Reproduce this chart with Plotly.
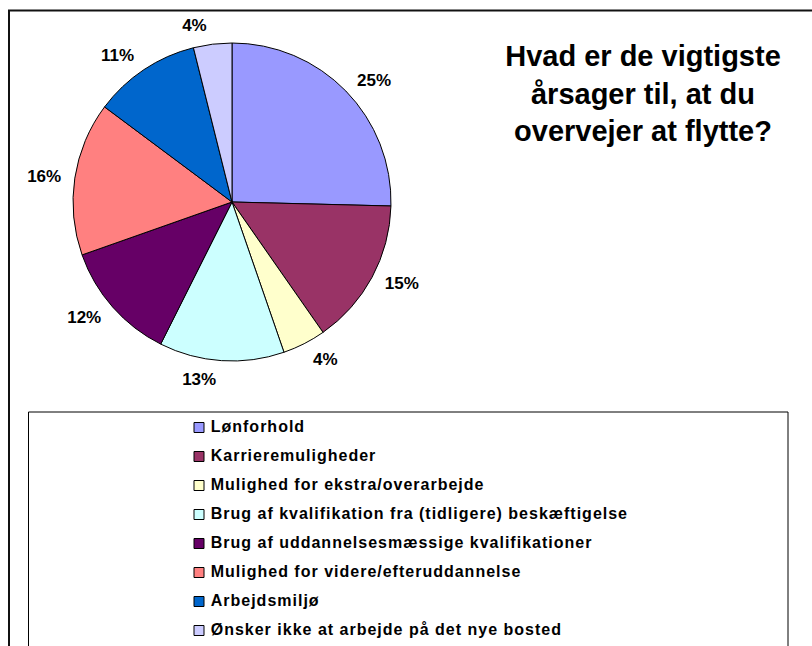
import plotly.graph_objects as go

W, H = 812, 646

# survey answers (share of respondents, %)
categories = [
    "Lønforhold",
    "Karrieremuligheder",
    "Mulighed for ekstra/overarbejde",
    "Brug af kvalifikation fra (tidligere) beskæftigelse",
    "Brug af uddannelsesmæssige kvalifikationer",
    "Mulighed for videre/efteruddannelse",
    "Arbejdsmiljø",
    "Ønsker ikke at arbejde på det nye bosted",
]
shares = [25.4, 14.9, 4.4, 12.7, 12.2, 15.6, 10.9, 3.9]
colors = ["#9999FF", "#993366", "#FFFFCC", "#CCFFFF",
          "#660066", "#FF8080", "#0066CC", "#CCCCFF"]

title = "Hvad er de vigtigste<br>årsager til, at du<br>overvejer at flytte?"
FONT = "Liberation Sans, Arial, sans-serif"


def px_x(p):
    return p / W


def px_y(p):
    return 1 - p / H


def pie_domain(cx, cy, r):
    return dict(x=[px_x(cx - r), px_x(cx + r)], y=[px_y(cy + r), px_y(cy - r)])


fig = go.Figure()

# pie: centre (232, 202), radius ~159 px
fig.add_trace(go.Pie(
    labels=categories,
    values=shares,
    sort=False,
    direction="clockwise",
    rotation=0,
    marker=dict(colors=colors, line=dict(color="black", width=1)),
    textinfo="none",
    domain=pie_domain(232, 202, 159),
    showlegend=False,
    hoverinfo="label+percent",
))

# same slices on a slightly larger transparent pie, only to push the % labels out
fig.add_trace(go.Pie(
    labels=categories,
    values=shares,
    sort=False,
    direction="clockwise",
    rotation=0,
    marker=dict(colors=["rgba(0,0,0,0)"] * len(categories), line=dict(width=0)),
    textposition="outside",
    texttemplate="%{percent:.0%}",
    textfont=dict(family=FONT, size=17, color="black", weight="bold"),
    domain=pie_domain(232, 202, 168),
    showlegend=False,
    hoverinfo="skip",
))

# legend drawn as a column of square markers with text
rows = list(range(len(categories)))
fig.add_trace(go.Scatter(
    x=[0] * len(categories),
    y=rows,
    mode="markers+text",
    marker=dict(symbol="square", size=10, color=colors,
                line=dict(color="black", width=1)),
    text=[" <span style='letter-spacing:1px'>%s</span>" % c for c in categories],
    textposition="middle right",
    textfont=dict(family=FONT, size=16, color="black", weight="bold"),
    cliponaxis=False,
    showlegend=False,
    hoverinfo="skip",
))

fig.update_layout(
    width=W, height=H,
    margin=dict(l=0, r=0, t=0, b=0),
    paper_bgcolor="white",
    plot_bgcolor="rgba(0,0,0,0)",
    title=dict(text=title, x=px_x(643), xanchor="center",
               y=px_y(66), yanchor="middle",
               font=dict(family=FONT, size=29, color="black", weight="bold")),
    xaxis=dict(domain=[px_x(199), 1], range=[0, 1], visible=False, fixedrange=True),
    yaxis=dict(domain=[px_y(645), px_y(413)], range=[7.5, -0.5],
               visible=False, fixedrange=True),
    shapes=[
        # outer chart frame (cut off at right and bottom)
        dict(type="rect", xref="paper", yref="paper",
             x0=px_x(9), x1=1.02, y0=-0.02, y1=px_y(10.5),
             line=dict(color="#111111", width=2), layer="below"),
        # legend box
        dict(type="rect", xref="paper", yref="paper",
             x0=px_x(28.5), x1=px_x(788), y0=-0.02, y1=px_y(412),
             line=dict(color="black", width=1), layer="below"),
    ],
)

fig.write_html(
    "out.html",
    config={"displayModeBar": False},
    post_script="document.body.style.margin='0';document.body.style.overflow='hidden';",
)
